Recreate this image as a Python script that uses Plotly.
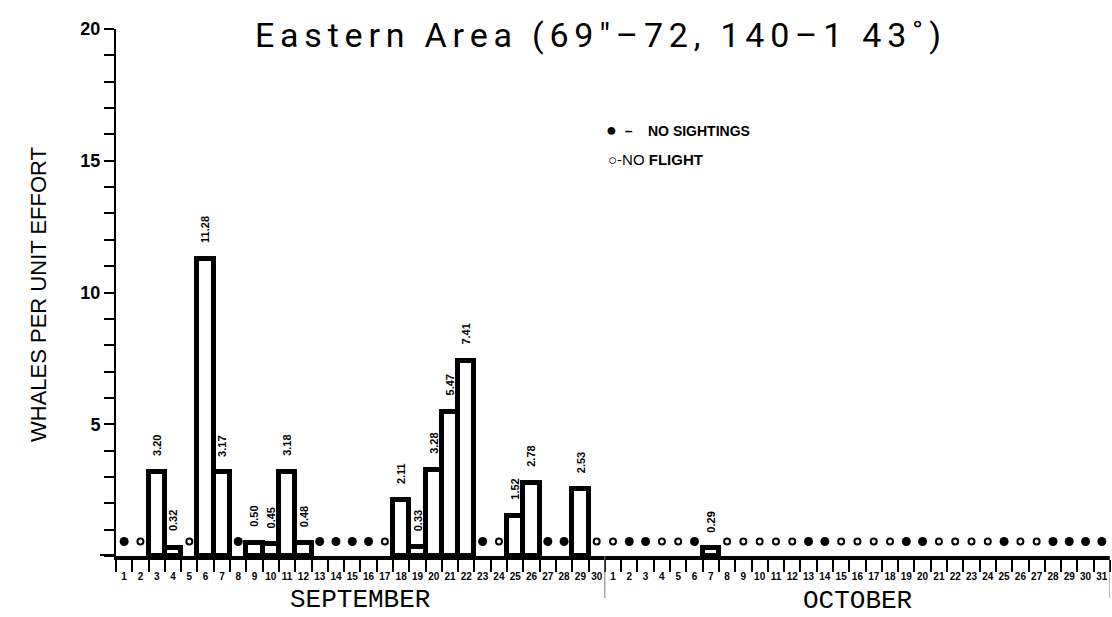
import plotly.graph_objects as go

# ---- data ----
sep_days = list(range(1, 31))
oct_days = list(range(1, 32))
tick_labels = [str(d) for d in sep_days] + [str(d) for d in oct_days]

# status per day: number = whales per unit effort bar, "N" = no sightings, "F" = no flight
sep_status = ["N", "F", 3.20, 0.32, "F", 11.28, 3.17, "N", 0.50, 0.45,
              3.18, 0.48, "N", "N", "N", "N", "F", 2.11, 0.33, 3.28,
              5.47, 7.41, "N", "F", 1.52, 2.78, "N", "N", 2.53, "F"]
oct_status = ["F", "N", "N", "F", "F", "N", 0.29, "F", "F", "F",
              "F", "F", "N", "N", "F", "F", "F", "F", "N", "N",
              "F", "F", "F", "F", "N", "F", "F", "N", "N", "N", "N"]
marker_level = 0.55
y_ticks = [5, 10, 15, 20]
title_text = 'Eastern Area (69"–72, 140–1 43˚)'

status = sep_status + oct_status
xs = list(range(1, len(status) + 1))
bar_x = [x for x, s in zip(xs, status) if not isinstance(s, str)]
bar_y = [s for s in status if not isinstance(s, str)]
ns_x = [x for x, s in zip(xs, status) if s == "N"]
nf_x = [x for x, s in zip(xs, status) if s == "F"]

fig = go.Figure()
fig.add_trace(go.Bar(
    x=bar_x, y=bar_y, width=1.0,
    marker=dict(color="white", line=dict(color="black", width=5)),
    cliponaxis=False, showlegend=False))
fig.add_trace(go.Scatter(
    x=ns_x, y=[marker_level] * len(ns_x), mode="markers",
    marker=dict(symbol="circle", size=9, color="black"), showlegend=False))
fig.add_trace(go.Scatter(
    x=nf_x, y=[marker_level] * len(nf_x), mode="markers",
    marker=dict(symbol="circle-open", size=6, color="black", line=dict(width=2)),
    showlegend=False))

L, R, T, B = 116, 2, 29, 61
W, H = 1112, 617
pw, ph = W - L - R, H - T - B

def px(xp):
    return (xp - L) / pw

def py(yp):
    return (H - B - yp) / ph

fig.update_layout(
    width=W, height=H, margin=dict(l=L, r=R, t=T, b=B),
    plot_bgcolor="white", paper_bgcolor="white", bargap=0,
    xaxis=dict(range=[0.5, len(status) + 0.5], tickvals=xs, ticktext=tick_labels,
               ticks="", showgrid=False, zeroline=False,
               showline=True, linecolor="black", linewidth=4,
               tickfont=dict(family="Arial, Liberation Sans", size=10, color="black", weight="bold"),
               ticklabelstandoff=8,
               minor=dict(ticks="outside", ticklen=12, tickwidth=2, tickcolor="black",
                          tick0=0.5, dtick=1, showgrid=False)),
    yaxis=dict(range=[0, 20], tickvals=y_ticks, ticktext=[str(v) for v in y_ticks],
               ticks="outside", ticklen=10, tickwidth=2, tickcolor="black",
               showgrid=False, zeroline=False, showline=True, linecolor="black", linewidth=2,
               tickfont=dict(family="Arial, Liberation Sans", size=18, color="black", weight="bold"),
               minor=dict(ticks="outside", ticklen=10, tickwidth=2, tickcolor="black",
                          dtick=1, showgrid=False)),
)

shapes = [
    dict(type="line", xref="paper", yref="y", x0=px(100), x1=0, y0=0, y1=0,
         line=dict(color="black", width=4)),
    dict(type="line", xref="x", yref="paper", x0=30.5, x1=30.5, y0=0, y1=py(598),
         line=dict(color="#777", width=1)),
    dict(type="line", xref="x", yref="paper", x0=len(status) + 0.5, x1=len(status) + 0.5,
         y0=0, y1=py(598), line=dict(color="#777", width=1)),
]
fig.update_layout(shapes=shapes)

spaced_title = "\u2006".join(title_text)

ann = [
    dict(text=spaced_title, xref="paper", yref="paper",
         x=px(598), y=py(35), xanchor="center", yanchor="middle", showarrow=False,
         font=dict(family="Roboto", size=34, color="black")),
    dict(text="WHALES PER UNIT EFFORT", xref="paper", yref="paper", x=px(38), y=py(295),
         xanchor="center", yanchor="middle", textangle=-90, showarrow=False,
         font=dict(family="Arial, Liberation Sans", size=22, color="black")),
    dict(text="<span style='font-size:18px'>●</span>  –    NO SIGHTINGS", xref="paper",
         yref="paper", x=px(604), y=py(130),
         xanchor="left", yanchor="middle", showarrow=False,
         font=dict(family="Arial, Liberation Sans", size=14, color="black", weight="bold")),
    dict(text="○-NO <b>FLIGHT</b>", xref="paper", yref="paper", x=px(606), y=py(160),
         xanchor="left", yanchor="middle", showarrow=False,
         font=dict(family="Arial, Liberation Sans", size=15, color="black")),
    dict(text="SEPTEMBER", xref="x", yref="paper", x=15.5, y=py(600),
         xanchor="center", yanchor="middle", showarrow=False,
         font=dict(family="Liberation Mono", size=26, color="black")),
    dict(text="OCTOBER", xref="x", yref="paper", x=46, y=py(601),
         xanchor="center", yanchor="middle", showarrow=False,
         font=dict(family="Liberation Mono", size=26, color="black")),
]
for bx, by in zip(bar_x, bar_y):
    ann.append(dict(text=f"{by:.2f}", x=bx, y=by, xref="x", yref="y",
                    textangle=-90, xanchor="center", yanchor="bottom", yshift=14,
                    showarrow=False,
                    font=dict(family="Arial, Liberation Sans", size=11, color="black",
                              weight="bold")))
fig.update_layout(annotations=ann)

fig.write_html("out.html")
